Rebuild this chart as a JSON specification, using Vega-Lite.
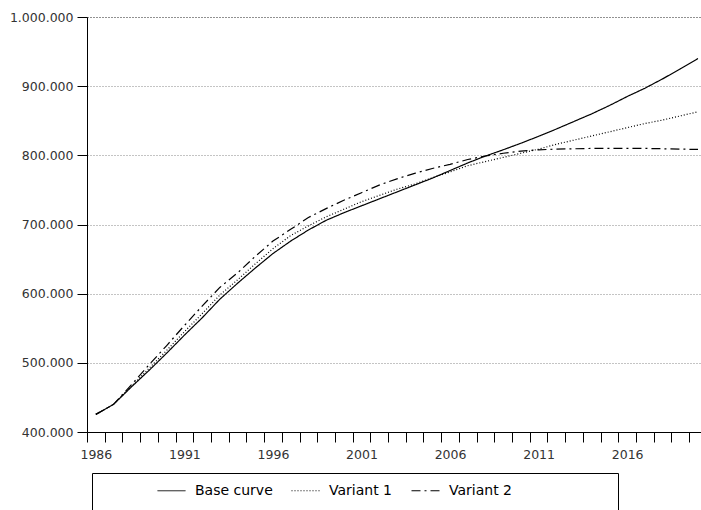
{
"$schema": "https://vega.github.io/schema/vega-lite/v6.json",
"width": 614, "height": 415,
"autosize": {"type": "none"},
"padding": {"left": 87, "top": 17, "right": 0, "bottom": 78},
"config": {"locale": {"number": {"decimal": ",", "thousands": ".", "grouping": [3], "currency": ["", ""]}}, "view": {"stroke": null}, "font": "DejaVu Sans"},
"data": {"values": [
{"year":1986,"series":"Base curve","value":425500},{"year":1987,"series":"Base curve","value":440000},{"year":1988,"series":"Base curve","value":465000},{"year":1989,"series":"Base curve","value":489000},{"year":1990,"series":"Base curve","value":514000},{"year":1991,"series":"Base curve","value":540000},{"year":1992,"series":"Base curve","value":565000},{"year":1993,"series":"Base curve","value":592000},{"year":1994,"series":"Base curve","value":615000},{"year":1995,"series":"Base curve","value":637000},{"year":1996,"series":"Base curve","value":658000},{"year":1997,"series":"Base curve","value":676000},{"year":1998,"series":"Base curve","value":692000},{"year":1999,"series":"Base curve","value":706000},{"year":2000,"series":"Base curve","value":717000},{"year":2001,"series":"Base curve","value":727000},{"year":2002,"series":"Base curve","value":737000},{"year":2003,"series":"Base curve","value":747000},{"year":2004,"series":"Base curve","value":757000},{"year":2005,"series":"Base curve","value":767000},{"year":2006,"series":"Base curve","value":778000},{"year":2007,"series":"Base curve","value":789000},{"year":2008,"series":"Base curve","value":799000},{"year":2009,"series":"Base curve","value":808000},{"year":2010,"series":"Base curve","value":817500},{"year":2011,"series":"Base curve","value":827500},{"year":2012,"series":"Base curve","value":838000},{"year":2013,"series":"Base curve","value":849000},{"year":2014,"series":"Base curve","value":860000},{"year":2015,"series":"Base curve","value":872000},{"year":2016,"series":"Base curve","value":885000},{"year":2017,"series":"Base curve","value":897000},{"year":2018,"series":"Base curve","value":910500},{"year":2019,"series":"Base curve","value":925000},{"year":2020,"series":"Base curve","value":940000},
{"year":1986,"series":"Variant 1","value":425500},{"year":1987,"series":"Variant 1","value":440000},{"year":1988,"series":"Variant 1","value":466000},{"year":1989,"series":"Variant 1","value":492000},{"year":1990,"series":"Variant 1","value":518000},{"year":1991,"series":"Variant 1","value":545000},{"year":1992,"series":"Variant 1","value":571000},{"year":1993,"series":"Variant 1","value":598000},{"year":1994,"series":"Variant 1","value":620000},{"year":1995,"series":"Variant 1","value":643000},{"year":1996,"series":"Variant 1","value":665000},{"year":1997,"series":"Variant 1","value":684000},{"year":1998,"series":"Variant 1","value":698000},{"year":1999,"series":"Variant 1","value":711000},{"year":2000,"series":"Variant 1","value":722000},{"year":2001,"series":"Variant 1","value":733000},{"year":2002,"series":"Variant 1","value":742000},{"year":2003,"series":"Variant 1","value":751000},{"year":2004,"series":"Variant 1","value":758500},{"year":2005,"series":"Variant 1","value":767500},{"year":2006,"series":"Variant 1","value":776000},{"year":2007,"series":"Variant 1","value":785000},{"year":2008,"series":"Variant 1","value":791000},{"year":2009,"series":"Variant 1","value":797000},{"year":2010,"series":"Variant 1","value":803000},{"year":2011,"series":"Variant 1","value":809000},{"year":2012,"series":"Variant 1","value":816000},{"year":2013,"series":"Variant 1","value":822000},{"year":2014,"series":"Variant 1","value":828000},{"year":2015,"series":"Variant 1","value":834000},{"year":2016,"series":"Variant 1","value":840000},{"year":2017,"series":"Variant 1","value":846000},{"year":2018,"series":"Variant 1","value":851000},{"year":2019,"series":"Variant 1","value":857000},{"year":2020,"series":"Variant 1","value":863000},
{"year":1986,"series":"Variant 2","value":425500},{"year":1987,"series":"Variant 2","value":440000},{"year":1988,"series":"Variant 2","value":468000},{"year":1989,"series":"Variant 2","value":497000},{"year":1990,"series":"Variant 2","value":525000},{"year":1991,"series":"Variant 2","value":554000},{"year":1992,"series":"Variant 2","value":582000},{"year":1993,"series":"Variant 2","value":609000},{"year":1994,"series":"Variant 2","value":630000},{"year":1995,"series":"Variant 2","value":654000},{"year":1996,"series":"Variant 2","value":676000},{"year":1997,"series":"Variant 2","value":693000},{"year":1998,"series":"Variant 2","value":710000},{"year":1999,"series":"Variant 2","value":723000},{"year":2000,"series":"Variant 2","value":735000},{"year":2001,"series":"Variant 2","value":746000},{"year":2002,"series":"Variant 2","value":757000},{"year":2003,"series":"Variant 2","value":766000},{"year":2004,"series":"Variant 2","value":774000},{"year":2005,"series":"Variant 2","value":781000},{"year":2006,"series":"Variant 2","value":787000},{"year":2007,"series":"Variant 2","value":794000},{"year":2008,"series":"Variant 2","value":799000},{"year":2009,"series":"Variant 2","value":803000},{"year":2010,"series":"Variant 2","value":806000},{"year":2011,"series":"Variant 2","value":808000},{"year":2012,"series":"Variant 2","value":809000},{"year":2013,"series":"Variant 2","value":809500},{"year":2014,"series":"Variant 2","value":810000},{"year":2015,"series":"Variant 2","value":810000},{"year":2016,"series":"Variant 2","value":810000},{"year":2017,"series":"Variant 2","value":810000},{"year":2018,"series":"Variant 2","value":809500},{"year":2019,"series":"Variant 2","value":809000},{"year":2020,"series":"Variant 2","value":808500}
]},
"mark": {"type": "line", "clip": true, "color": "black", "strokeWidth": 1.2},
"encoding": {
"x": {"field": "year", "type": "quantitative",
 "scale": {"domain": [1985.5, 2020.17], "nice": false, "zero": false},
 "axis": {"title": null, "values": [1985.5,1986.5,1987.5,1988.5,1989.5,1990.5,1991.5,1992.5,1993.5,1994.5,1995.5,1996.5,1997.5,1998.5,1999.5,2000.5,2001.5,2002.5,2003.5,2004.5,2005.5,2006.5,2007.5,2008.5,2009.5,2010.5,2011.5,2012.5,2013.5,2014.5,2015.5,2016.5,2017.5,2018.5,2019.5],
  "labelExpr": "(datum.value + 0.5 - 1986) % 5 == 0 ? format(datum.value + 0.5, 'd') : ''",
  "labelOffset": 8.85, "labelOverlap": false, "labelFlush": false, "labelBound": false,
  "grid": false, "tickSize": 10, "tickColor": "black", "domainColor": "black",
  "labelFontSize": 12.5, "labelColor": "#333", "labelPadding": 6}},
"y": {"field": "value", "type": "quantitative",
 "scale": {"domain": [400000, 1000000], "nice": false, "zero": false},
 "axis": {"title": null, "values": [400000,500000,600000,700000,800000,900000,1000000], "format": ",d",
  "grid": true, "gridDash": [1,2],
  "gridColor": {"condition": {"test": "datum.value == 1000000", "value": "#222"}, "value": "#888"},
  "tickSize": 10, "tickColor": "black", "domainColor": "black",
  "labelFontSize": 12.5, "labelColor": "#333", "labelPadding": 4}},
"strokeDash": {"field": "series", "type": "nominal",
 "scale": {"domain": ["Base curve", "Variant 1", "Variant 2"], "range": [[1,0],[1,2],[9,4,2,4]]},
 "legend": {"orient": "none", "legendX": 5, "legendY": 456, "direction": "horizontal",
  "title": ["\u2800", "\u2800", "\u2800"], "titleOrient": "left", "titlePadding": 52, "titleFontSize": 12, "titleLineHeight": 14,
  "strokeColor": "black", "padding": 3,
  "symbolType": "stroke", "symbolSize": 784, "symbolStrokeColor": "black", "symbolStrokeWidth": 1,
  "labelFontSize": 14, "labelColor": "#000", "labelOffset": 9, "columnPadding": 16, "labelLimit": 300,
  "labelExpr": "datum.label == 'Variant 2' ? datum.label + '\u2800\u2800\u2800\u2800\u2800\u2800\u2800\u2800\u2800\u2800' : datum.label"}}
}
}
